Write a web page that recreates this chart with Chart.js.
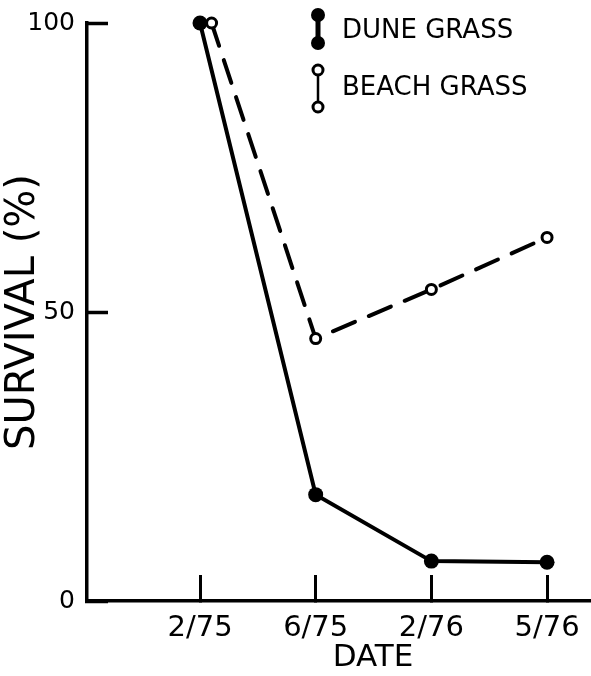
<!DOCTYPE html>
<html>
<head>
<meta charset="utf-8">
<script src="https://cdn.jsdelivr.net/npm/chart.js@4"></script>
<style>
  html, body { margin: 0; padding: 0; background: #fff; overflow: hidden; }
  #wrap { width: 591px; height: 676px; }
  canvas { display: block; }
</style>
</head>
<body>
<div id="wrap"><canvas id="survival-chart" width="591" height="676"></canvas></div>
<script>
var dates = ['2/75', '6/75', '2/76', '5/76'];
var datePos = [1, 2, 3, 4];
var duneGrass = [100, 18.4, 6.9, 6.7];
var beachGrass = [100, 45.4, 53.9, 62.9];
// beach grass first point is drawn a little right of the tick in the original
var beachShift = [0.1, 0, 0, 0];
var yTicks = [0, 50, 100];

var fontFamily = '"DejaVu Sans", sans-serif';

function pairs(xs, ys, shift) {
    return ys.map((y, i) => ({ x: xs[i] + (shift ? shift[i] : 0), y: y }));
}

// no extra room for overflowing tick labels, the figure runs to the edges
function noPad(scale) {
    scale.paddingTop = 0;
    scale.paddingBottom = 0;
    scale.paddingLeft = 0;
    scale.paddingRight = 0;
}

// legend + x title drawn by hand, like the figure
var figureExtras = {
    id: 'figureExtras',
    afterDraw(chart) {
        var c = chart.ctx;
        c.save();
        c.fillStyle = '#000';
        c.strokeStyle = '#000';

        // dune grass symbol
        c.lineWidth = 5;
        c.beginPath();
        c.moveTo(318, 15);
        c.lineTo(318, 43);
        c.stroke();
        [15, 43].forEach(y => {
            c.beginPath();
            c.arc(318, y, 7, 0, Math.PI * 2);
            c.fill();
        });

        // beach grass symbol
        c.lineWidth = 2.5;
        c.beginPath();
        c.moveTo(318, 75);
        c.lineTo(318, 102);
        c.stroke();
        [70, 107].forEach(y => {
            c.beginPath();
            c.arc(318, y, 5, 0, Math.PI * 2);
            c.fillStyle = '#fff';
            c.fill();
            c.lineWidth = 3;
            c.stroke();
        });

        c.fillStyle = '#000';
        c.font = '26px ' + fontFamily;
        c.textBaseline = 'middle';
        c.textAlign = 'left';
        c.fillText('DUNE GRASS', 342, 31);
        c.fillText('BEACH GRASS', 342, 88);

        c.font = '31px ' + fontFamily;
        c.textAlign = 'center';
        c.fillText('DATE', 373, 658);
        c.restore();
    }
};

var ctx = document.getElementById('survival-chart').getContext('2d');
var chart = new Chart(ctx, {
    type: 'line',
    data: {
        datasets: [{
            label: 'DUNE GRASS',
            data: pairs(datePos, duneGrass),
            borderColor: '#000',
            backgroundColor: '#000',
            borderWidth: 4,
            borderCapStyle: 'round',
            pointRadius: 7.5,
            pointBackgroundColor: '#000',
            pointBorderWidth: 0,
            tension: 0,
            clip: false
        }, {
            label: 'BEACH GRASS',
            data: pairs(datePos, beachGrass, beachShift),
            borderColor: '#000',
            backgroundColor: '#fff',
            borderWidth: 4,
            borderCapStyle: 'round',
            borderDash: [24, 15],
            pointRadius: 5,
            pointBackgroundColor: '#fff',
            pointBorderColor: '#000',
            pointBorderWidth: 3,
            tension: 0,
            clip: false
        }]
    },
    options: {
        responsive: false,
        animation: false,
        events: [],
        layout: { autoPadding: false, padding: { top: 23, left: 0, right: 0, bottom: 0 } },
        plugins: {
            legend: { display: false },
            tooltip: { enabled: false }
        },
        scales: {
            x: {
                type: 'linear',
                min: 0.023,
                max: 4.38,
                afterBuildTicks: scale => {
                    scale.ticks = datePos.map(v => ({ value: v }));
                },
                afterFit: scale => { scale.height = 75; noPad(scale); },
                ticks: {
                    callback: value => dates[datePos.indexOf(value)],
                    color: '#000',
                    font: { family: fontFamily, size: 29 },
                    padding: 36,
                    maxRotation: 0,
                    autoSkip: false
                },
                grid: {
                    drawOnChartArea: false,
                    tickLength: -26,
                    tickWidth: 3,
                    tickColor: '#000'
                },
                border: { color: '#000', width: 3.5 }
            },
            y: {
                min: 0,
                max: 100,
                afterBuildTicks: scale => {
                    scale.ticks = yTicks.map(v => ({ value: v }));
                },
                afterFit: scale => { scale.width = 87; noPad(scale); },
                ticks: {
                    color: '#000',
                    font: { family: fontFamily, size: 25 },
                    padding: 33
                },
                grid: {
                    drawOnChartArea: false,
                    tickLength: -21,
                    tickWidth: 3.5,
                    tickColor: '#000'
                },
                border: { color: '#000', width: 3.5 },
                title: {
                    display: true,
                    text: 'SURVIVAL (%)',
                    color: '#000',
                    font: { family: fontFamily, size: 40 },
                    padding: { top: 0, bottom: 0 }
                }
            }
        }
    },
    plugins: [figureExtras]
});
</script>
</body>
</html>
